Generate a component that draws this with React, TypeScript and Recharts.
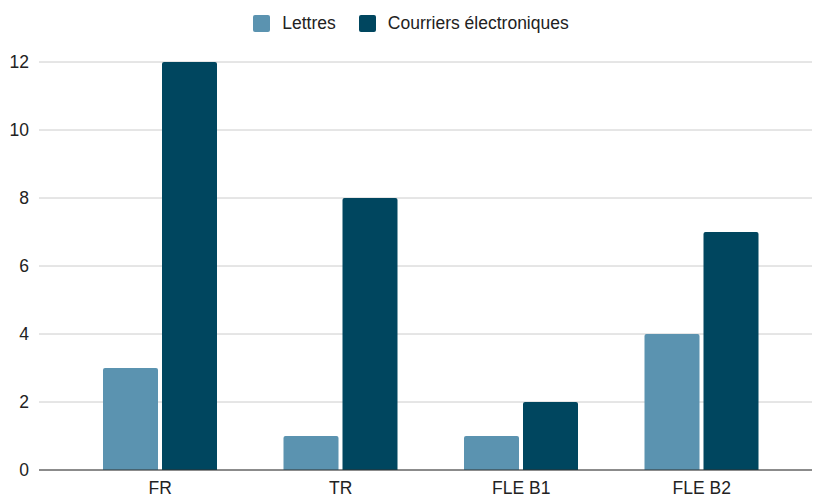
import React from "react";
import { BarChart, Bar, XAxis, YAxis, CartesianGrid, Legend } from "recharts";

const categories = ["FR", "TR", "FLE B1", "FLE B2"];
const lettres = [3, 1, 1, 4];
const courriers = [12, 8, 2, 7];
const yTicks = [0, 2, 4, 6, 8, 10, 12];
const seriesNames = ["Lettres", "Courriers électroniques"];
const seriesColors = ["#5b93b0", "#00465f"];

const data = categories.map((c, i) => ({ name: c, lettres: lettres[i], courriers: courriers[i] }));

const FONT = "'Liberation Sans', Arial, sans-serif";
const FS = 17.5;

const LegendContent = () => (
  <div style={{ height: 52, display: "flex", justifyContent: "center", alignItems: "flex-start", fontFamily: FONT, fontSize: FS, color: "#222", paddingLeft: 10, boxSizing: "border-box" }}>
    {seriesNames.map((n, i) => (
      <div key={n} style={{ display: "flex", alignItems: "center", marginTop: 5, marginLeft: i === 0 ? 0 : 23, height: 17 }}>
        <div style={{ width: 17, height: 17, background: seriesColors[i], borderRadius: 2, marginRight: 12 }} />
        <span style={{ lineHeight: "17px" }}>{n}</span>
      </div>
    ))}
  </div>
);

export default function App() {
  return (
    <div style={{ position: "absolute", left: 0, top: 0, width: 813, height: 497, background: "#fff" }}>
      <BarChart
        width={813}
        height={497}
        data={data}
        margin={{ top: 10, right: 1, left: 0, bottom: 0 }}
        barCategoryGap={33}
        barGap={4}
      >
        <Legend verticalAlign="top" align="center" content={<LegendContent />} />
        <CartesianGrid vertical={false} stroke="#cccccc" />
        <XAxis
          dataKey="name"
          height={27}
          tickLine={false}
          axisLine={{ stroke: "#333333" }}
          tickMargin={6}
          padding={{ left: 31, right: 20 }}
          tick={{ fill: "#222", fontSize: FS, fontFamily: FONT }}
        />
        <YAxis
          width={39}
          domain={[0, 12]}
          ticks={yTicks}
          tickLine={false}
          axisLine={false}
          tickMargin={4}
          tick={{ fill: "#222", fontSize: FS, fontFamily: FONT }}
        />
        <Bar dataKey="lettres" name={seriesNames[0]} fill={seriesColors[0]} barSize={55} radius={[2, 2, 0, 0]} isAnimationActive={false} />
        <Bar dataKey="courriers" name={seriesNames[1]} fill={seriesColors[1]} barSize={55} radius={[2, 2, 0, 0]} isAnimationActive={false} />
      </BarChart>
    </div>
  );
}
